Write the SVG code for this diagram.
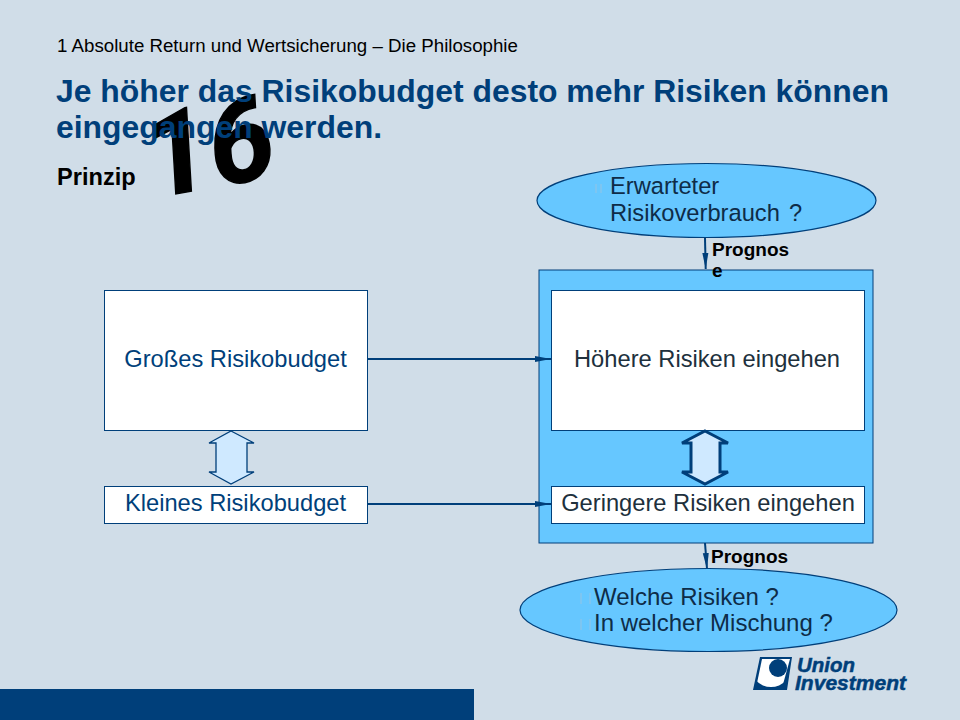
<svg xmlns="http://www.w3.org/2000/svg" width="960" height="720" viewBox="0 0 960 720">
<defs>
<style>
text{font-family:"Liberation Sans",Arial,sans-serif}
.box{fill:#fff;stroke:#003f7a;stroke-width:1}
.ell{fill:#66c7ff;stroke:#003f7a;stroke-width:1.2}
.t20{font-size:23.7px;fill:#0e2c48}
.t24{font-size:24px;fill:#0e2c48}
.blue{font-size:23.7px;fill:#003f7a;text-anchor:middle}
.dark{font-size:23.7px;fill:#20303c;text-anchor:middle}
.head{font-size:31.9px;font-weight:bold;fill:#003f7a}
.prog{font-size:19px;font-weight:bold;fill:#000}
.conn{fill:none;stroke:#003f7a;stroke-width:2}
.bul{fill:none;stroke:#a9c4d8;stroke-width:.7}
.logot{font-size:21px;font-weight:bold;font-style:italic;fill:#003f7a;stroke:#003f7a;stroke-width:.5}
</style>
<marker id="arr" markerUnits="userSpaceOnUse" markerWidth="17" markerHeight="8" refX="16" refY="4" orient="auto"><path d="M0 1 L16 4 L0 7Z" fill="#003f7a"/></marker>
<clipPath id="logoclip"><path d="M762 659H790L782 688H756Z"/></clipPath>
</defs>
<rect width="960" height="720" fill="#d0dde8"/>
<rect id="footer-bar" x="0" y="689" width="474" height="31" fill="#003f7a"/>
<text id="page-number" transform="matrix(.94 -.17 .058 .998 148 199)" font-size="118" font-weight="bold" fill="#000" stroke="#000" stroke-width="1.500" style="font-family:Roboto,'Liberation Sans',sans-serif">16</text>
<text id="kicker" x="57" y="52" font-size="18.7" fill="#000">1 Absolute Return und Wertsicherung – Die Philosophie</text>
<text id="title" class="head"><tspan x="56" y="102">Je höher das Risikobudget desto mehr Risiken können</tspan><tspan x="56" y="138">eingegangen werden.</tspan></text>
<text id="subtitle" x="57" y="185" font-size="23.6" font-weight="bold" fill="#000">Prinzip</text>
<rect id="container" x="539" y="270" width="334" height="273" fill="#66c7ff" stroke="#003f7a" stroke-width="1"/>
<g id="connectors">
<path class="conn" d="M705 238L705.700 269" marker-end="url(#arr)"/>
<path class="conn" d="M705 543L707 569" marker-end="url(#arr)"/>
<path class="conn" d="M368 359H551" marker-end="url(#arr)"/>
<path class="conn" d="M368 504H551" marker-end="url(#arr)"/>
</g>
<g id="node-gross"><rect class="box" x="104.500" y="290.500" width="263" height="140"/><text class="blue" x="235.500" y="367.400">Großes Risikobudget</text></g>
<g id="node-klein"><rect class="box" x="104.500" y="486.500" width="263" height="37"/><text class="blue" x="235.500" y="511">Kleines Risikobudget</text></g>
<g id="node-hoehere"><rect class="box" x="551.500" y="290.500" width="313" height="140"/><text class="dark" x="707" y="367.400">Höhere Risiken eingehen</text></g>
<g id="node-geringere"><rect class="box" x="551.500" y="486.500" width="313" height="37"/><text class="dark" x="708" y="511">Geringere Risiken eingehen</text></g>
<g id="double-arrow-left"><path d="M231 431L254 443H247V472H254L231 484L209 472H216V443H209Z" fill="#cfe9ff" stroke="#003f7a" stroke-width="1.300"/></g>
<g id="double-arrow-right"><path d="M705 431L728 443H720V472H728L705 484L682 472H691V443H682Z" fill="#cfe9ff" stroke="#003f7a" stroke-width="3"/></g>
<g id="ellipse-top"><ellipse class="ell" cx="706.500" cy="200.500" rx="169.500" ry="37"/>
<path class="bul" d="M596 184V193M601 184V193"/>
<text class="t20"><tspan x="610" y="194">Erwarteter</tspan><tspan x="610" y="221">Risikoverbrauch</tspan><tspan x="789" y="221">?</tspan></text></g>
<g id="ellipse-bottom"><ellipse class="ell" cx="708.500" cy="610" rx="188.500" ry="41.500"/>
<path class="bul" d="M581 593V604M590 593V604M581 619V630M590 619V630"/>
<text class="t24"><tspan x="594" y="605">Welche Risiken ?</tspan><tspan x="594" y="631">In welcher Mischung ?</tspan></text></g>
<text id="label-top" class="prog"><tspan x="712" y="256">Prognos</tspan><tspan x="712" y="277">e</tspan></text>
<text id="label-bottom" class="prog" x="711" y="563">Prognos</text>
<g id="logo">
<path d="M760 657H792L787 690H753Z" fill="#003f7a"/>
<circle cx="771" cy="666" r="21" fill="#fff" clip-path="url(#logoclip)"/>
<circle cx="778" cy="668" r="9" fill="#003f7a"/>
<text class="logot" x="797" y="672" textLength="58" lengthAdjust="spacingAndGlyphs">Union</text>
<text class="logot" x="795" y="690" textLength="111" lengthAdjust="spacingAndGlyphs">Investment</text>
</g>
</svg>
